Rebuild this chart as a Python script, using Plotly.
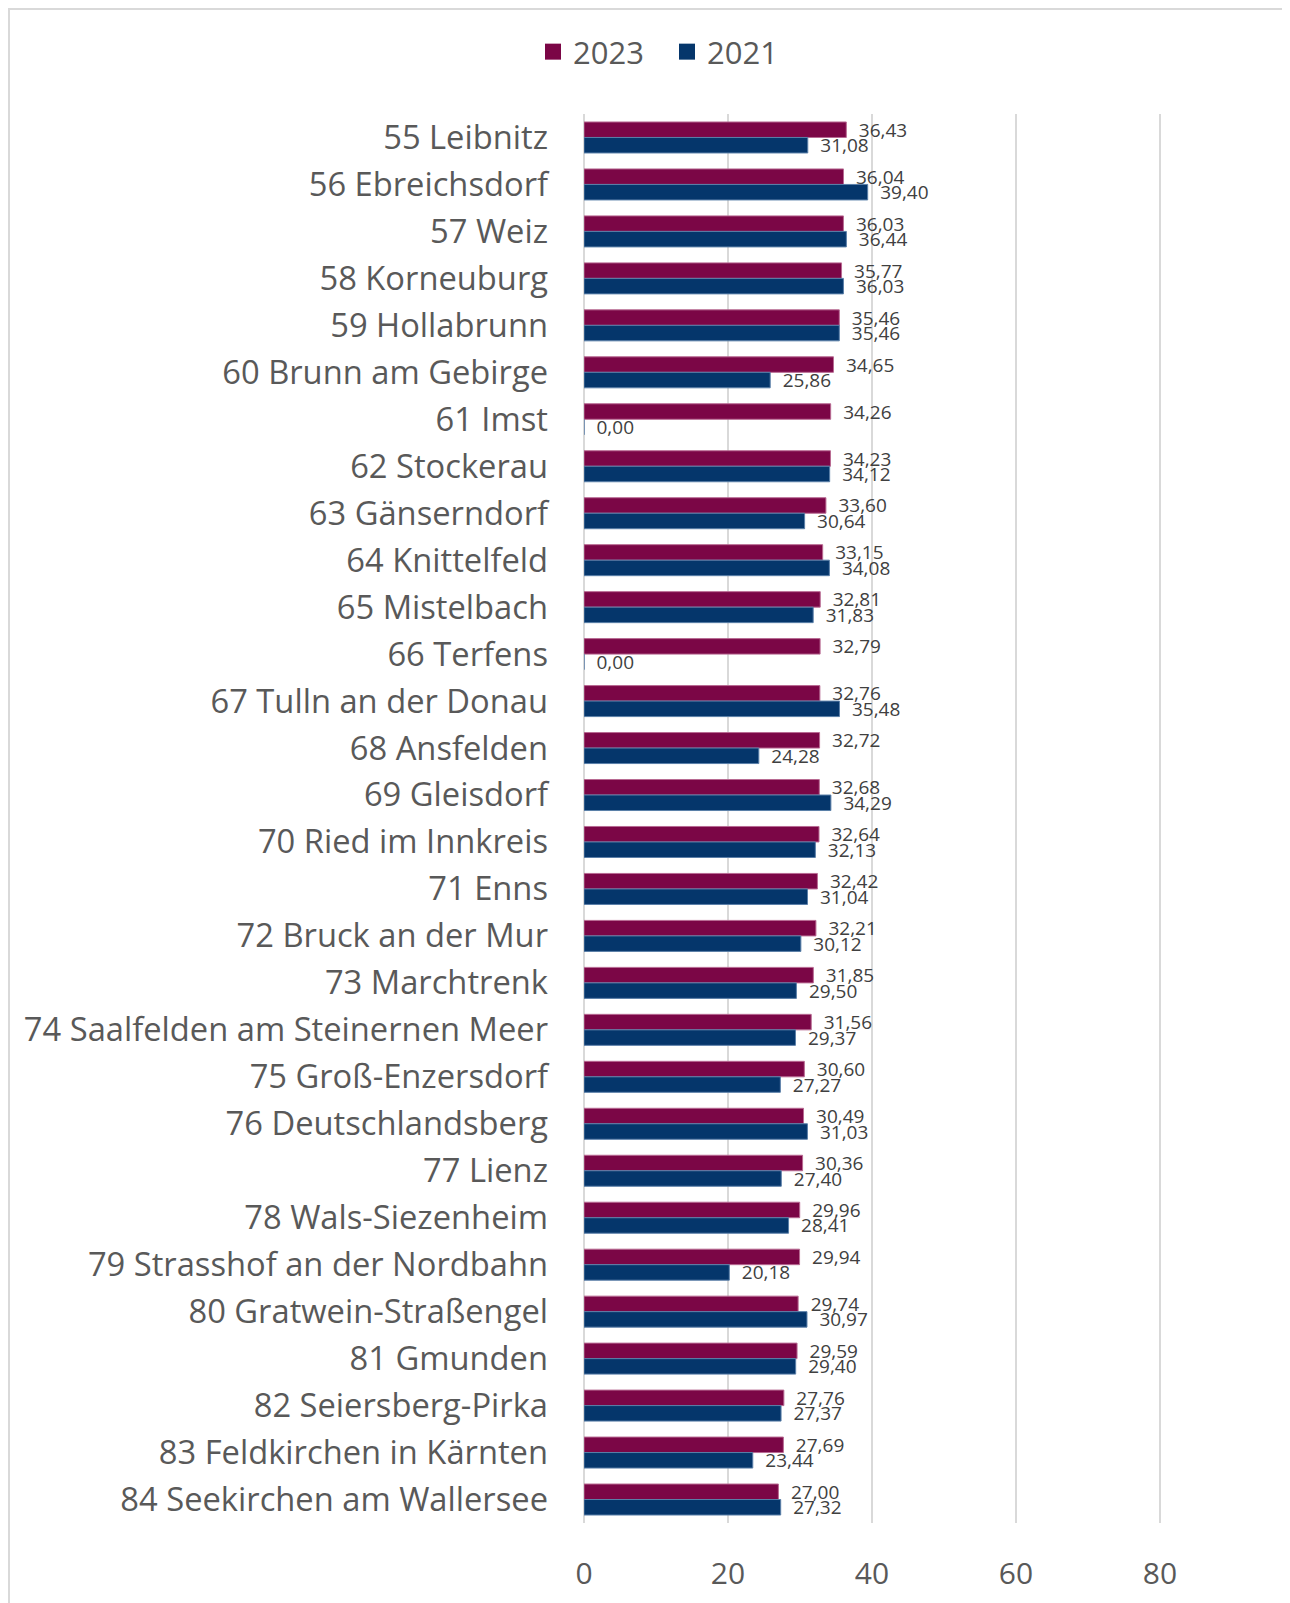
import plotly.graph_objects as go

categories = [
    "55 Leibnitz", "56 Ebreichsdorf", "57 Weiz", "58 Korneuburg", "59 Hollabrunn",
    "60 Brunn am Gebirge", "61 Imst", "62 Stockerau", "63 Gänserndorf", "64 Knittelfeld",
    "65 Mistelbach", "66 Terfens", "67 Tulln an der Donau", "68 Ansfelden", "69 Gleisdorf",
    "70 Ried im Innkreis", "71 Enns", "72 Bruck an der Mur", "73 Marchtrenk",
    "74 Saalfelden am Steinernen Meer", "75 Groß-Enzersdorf", "76 Deutschlandsberg",
    "77 Lienz", "78 Wals-Siezenheim", "79 Strasshof an der Nordbahn",
    "80 Gratwein-Straßengel", "81 Gmunden", "82 Seiersberg-Pirka",
    "83 Feldkirchen in Kärnten", "84 Seekirchen am Wallersee",
]
values_2023 = [36.43, 36.04, 36.03, 35.77, 35.46, 34.65, 34.26, 34.23, 33.60, 33.15,
               32.81, 32.79, 32.76, 32.72, 32.68, 32.64, 32.42, 32.21, 31.85, 31.56,
               30.60, 30.49, 30.36, 29.96, 29.94, 29.74, 29.59, 27.76, 27.69, 27.00]
values_2021 = [31.08, 39.40, 36.44, 36.03, 35.46, 25.86, 0.00, 34.12, 30.64, 34.08,
               31.83, 0.00, 35.48, 24.28, 34.29, 32.13, 31.04, 30.12, 29.50, 29.37,
               27.27, 31.03, 27.40, 28.41, 20.18, 30.97, 29.40, 27.37, 23.44, 27.32]
x_ticks = [0, 20, 40, 60, 80]

FONT = "Open Sans, Noto Sans, sans-serif"
C2023 = "#7B0646"
C2021 = "#05366B"

W, H = 1282, 1595          # page has an 8px body margin
L, T, B = 576, 106, 80
PW = W - L
PH = H - T - B


def fmt(v):
    return "\u2002" + f"{v:.2f}".replace(".", ",")


fig = go.Figure()
for name, vals, col, edge in [("2023", values_2023, C2023, "#B86A92"),
                              ("2021", values_2021, C2021, "#5A7FA8")]:
    fig.add_trace(go.Bar(
        y=categories, x=vals, name=name, orientation="h",
        marker=dict(color=col, line=dict(color=edge, width=1)),
        text=[fmt(v) for v in vals], textposition="outside",
        textfont=dict(family=FONT, size=19, color="#404040"),
        constraintext="none", cliponaxis=False, showlegend=False,
    ))
# legend entries with larger square markers
for name, col in [("2023", C2023), ("2021", C2021)]:
    fig.add_trace(go.Scatter(
        x=[None], y=[None], mode="markers", name=name,
        marker=dict(symbol="square", size=20, color=col),
    ))

fig.update_layout(
    width=W, height=H,
    paper_bgcolor="white", plot_bgcolor="white",
    margin=dict(l=L, r=0, t=T, b=B, autoexpand=False),
    barmode="group", bargap=0.34, bargroupgap=0,
    font=dict(family=FONT, color="#595959"),
    legend=dict(orientation="h", x=(667 - 8) / W, xanchor="center", xref="container",
                y=1 - (52 - 8) / H, yref="container", yanchor="middle",
                font=dict(family=FONT, size=31, color="#595959"),
                traceorder="normal", itemwidth=30,
                entrywidth=89, entrywidthmode="pixels"),
    showlegend=True,
)

fig.update_xaxes(
    range=[0, PW / 7.2], tickvals=x_ticks, showgrid=True, gridcolor="#D9D9D9", gridwidth=1.5,
    zeroline=True, zerolinecolor="#D9D9D9", zerolinewidth=1.5, showline=False,
    tickfont=dict(family=FONT, size=30, color="#595959"),
    ticklabelstandoff=30,
)
fig.update_yaxes(
    autorange="reversed", showgrid=False, showline=False,
    tickfont=dict(family=FONT, size=32.7, color="#595959"),
    ticklabelstandoff=35,
)

# outer chart border
fig.add_shape(type="rect", xref="paper", yref="paper",
              x0=(1 - L) / PW, x1=(W + 20 - L) / PW,
              y0=-0.2, y1=(PH + T - 1) / PH,
              line=dict(color="#D9D9D9", width=2), fillcolor="rgba(0,0,0,0)",
              layer="below")

fig.write_html("out.html")
